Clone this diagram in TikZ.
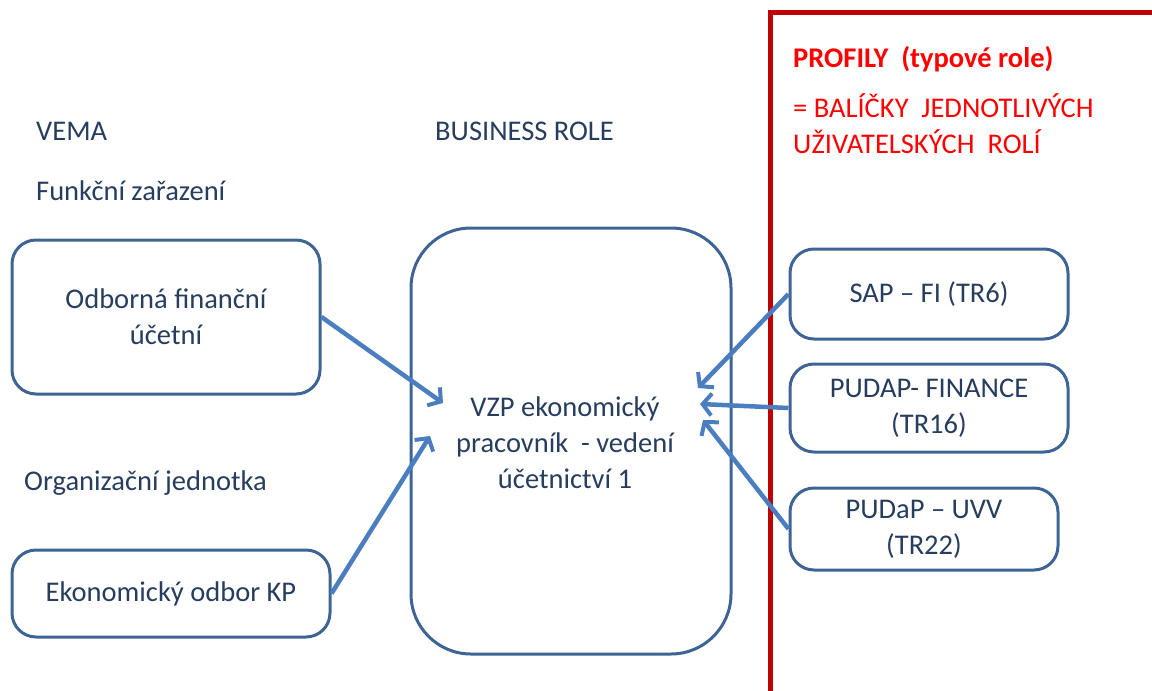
\documentclass[tikz,border=0pt]{standalone}
\usepackage{fontspec}
\setmainfont{Carlito}
\usetikzlibrary{arrows.meta}
\definecolor{txt}{HTML}{263D5E}
\definecolor{boxc}{HTML}{3D6495}
\definecolor{arr}{HTML}{4A7EC0}
\definecolor{frame}{HTML}{C00000}
\definecolor{redt}{HTML}{FF0000}
\tikzset{
  box/.style={draw=boxc, line width=3pt, rounded corners=24pt, align=center, text=txt, inner sep=0pt},
  lbl/.style={anchor=base west, text=txt, inner sep=0pt},
  rlbl/.style={anchor=base west, text=redt, inner sep=0pt, align=left},
  conn/.style={draw=arr, line width=4.5pt, -{Straight Barb[length=9pt,width=22pt,line width=4pt]}}
}
\begin{document}
\begin{tikzpicture}[x=1pt,y=-1pt,font=\fontsize{28.5}{36}\selectfont]
\useasboundingbox (0,0) rectangle (1152,691);
% red frame
\coordinate (fa) at (770,700);
\coordinate (fb) at (1160,12);
\draw[frame, line width=5pt] (fa) |- (fb);
% labels
\node[lbl] (vema) at (36,140) {VEMA};
\node[lbl] (fz) at (36,200) {Funkční zařazení};
\node[lbl] (br) at (435,140) {BUSINESS ROLE};
\node[lbl] (oj) at (24,490) {Organizační jednotka};
\node[rlbl, font=\fontsize{28.5}{36}\selectfont\bfseries] (prof) at (793,67) {PROFILY\ \ (typové role)};
\node[rlbl, anchor=north west] (bal) at (793,94) {= BALÍČKY\ \ JEDNOTLIVÝCH\\UŽIVATELSKÝCH\ \ ROLÍ};
% boxes
\node[box, minimum width=308pt, minimum height=154pt] (odb) at (166,317) {Odborná finanční\\účetní};
\node[box, minimum width=318pt, minimum height=87pt] (eko) at (171,593.5) {Ekonomický odbor KP};
\node[box, rounded corners=60pt, minimum width=320pt, minimum height=426pt] (vzp) at (571,441) {};
\node[text=txt, align=center, inner sep=0pt] (vzpt) at (565,443) {VZP ekonomický\\pracovník\ \ - vedení\\účetnictví 1};
\node[box, minimum width=278pt, minimum height=90pt] (sap) at (929,294) {SAP – FI (TR6)};
\node[box, minimum width=278pt, minimum height=88pt] (pud) at (929,408) {PUDAP- FINANCE\\(TR16)};
\node[box, minimum width=268pt, minimum height=82pt] (uvv) at (924,529) {PUDaP – UVV\\(TR22)};
% arrow targets
\coordinate (t1) at (443,403);
\coordinate (t2) at (430,436);
\coordinate (t3) at (698,388);
\coordinate (t4) at (700,404);
\coordinate (t5) at (703,420);
\draw[conn] (odb.east) -- (t1);
\draw[conn] (eko.east) -- (t2);
\draw[conn] (sap.west) -- (t3);
\draw[conn] (pud.west) -- (t4);
\draw[conn] (uvv.west) -- (t5);
\end{tikzpicture}
\end{document}
